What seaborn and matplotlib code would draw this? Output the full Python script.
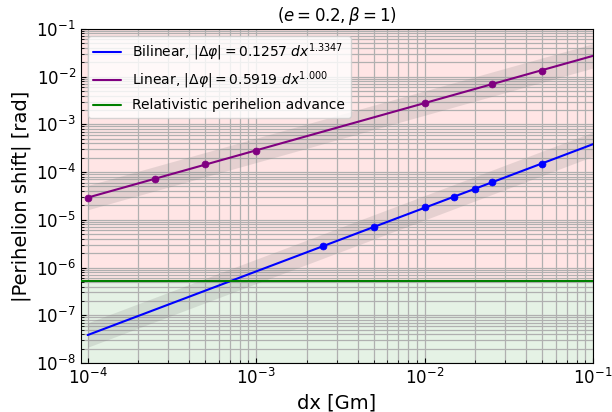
import numpy as np
import pandas as pd
import matplotlib
matplotlib.use("Agg")
import matplotlib.pyplot as plt
import seaborn as sns

# ---- data ----
bilinear_dx = [2.5e-3, 5e-3, 1e-2, 1.5e-2, 2e-2, 2.5e-2, 5e-2]
bilinear_shift = [2.78e-6, 7.06e-6, 1.85e-5, 2.96e-5, 4.49e-5, 6.2e-5, 1.5e-4]
linear_dx = [1e-4, 2.5e-4, 5e-4, 1e-3, 1e-2, 2.5e-2, 5e-2]
linear_shift = [2.90e-5, 7.16e-5, 1.46e-4, 2.81e-4, 2.85e-3, 6.93e-3, 1.34e-2]
relativistic_shift = 5.2e-7

bilinear_label = r"Bilinear, $|\Delta\varphi| = 0.1257\ dx^{1.3347}$"
linear_label = r"Linear, $|\Delta\varphi| = 0.5919\ dx^{1.000}$"
rel_label = "Relativistic perihelion advance"
title = r"$(e = 0.2, \beta = 1)$"
band_factor = 1.8

sns.set_style("ticks", rc={"text.color": "black", "axes.labelcolor": "black",
                           "xtick.color": "black", "ytick.color": "black",
                           "axes.edgecolor": "black"})
plt.rcParams["font.family"] = ["DejaVu Sans"]

fig = plt.figure(figsize=(6.12, 4.12), dpi=100)
ax = fig.add_axes([0.132, 0.119, 0.837, 0.811])
ax.set_xscale("log")
ax.set_yscale("log")
xmin, xmax = 9.1e-5, 1e-1
ymin, ymax = 1e-8, 1e-1

# background shading
ax.axhspan(relativistic_shift, ymax, color="red", alpha=0.1, lw=0, zorder=0)
ax.axhspan(ymin, relativistic_shift, color="green", alpha=0.1, lw=0, zorder=0)

xfit = np.logspace(-4, -1, 100)

def fit(xs, ys):
    p = np.polyfit(np.log10(xs), np.log10(ys), 1)
    return 10 ** np.polyval(p, np.log10(xfit))

series = [
    (bilinear_dx, bilinear_shift, "blue", bilinear_label),
    (linear_dx, linear_shift, "purple", linear_label),
]
for xs, ys, col, lab in series:
    yf = fit(xs, ys)
    ax.fill_between(xfit, yf / band_factor, yf * band_factor, color="gray",
                    alpha=0.2, lw=0, zorder=2)
    df_fit = pd.DataFrame({"x": xfit, "y": yf})
    sns.lineplot(data=df_fit, x="x", y="y", color=col, lw=1.5, ax=ax,
                 label=lab, zorder=3)
    df_pts = pd.DataFrame({"x": xs, "y": ys})
    sns.scatterplot(data=df_pts, x="x", y="y", color=col, s=25, ax=ax,
                    edgecolor=col, linewidth=0.5, zorder=4, legend=False)

ax.axhline(relativistic_shift, color="green", lw=1.5, label=rel_label, zorder=3)

ax.set_xlim(xmin, xmax)
ax.set_ylim(ymin, ymax)
ax.grid(True, which="both", color="#b0b0b0", lw=0.9, zorder=1)
ax.tick_params(which="both", direction="in", labelsize=12)
ax.set_xlabel("dx [Gm]", fontsize=14)
ax.set_ylabel("|Perihelion shift| [rad]", fontsize=14)
ax.set_title(title, fontsize=12)
ax.legend(loc="upper left", fontsize=10, frameon=True)

fig.savefig("out.png", dpi=100)
